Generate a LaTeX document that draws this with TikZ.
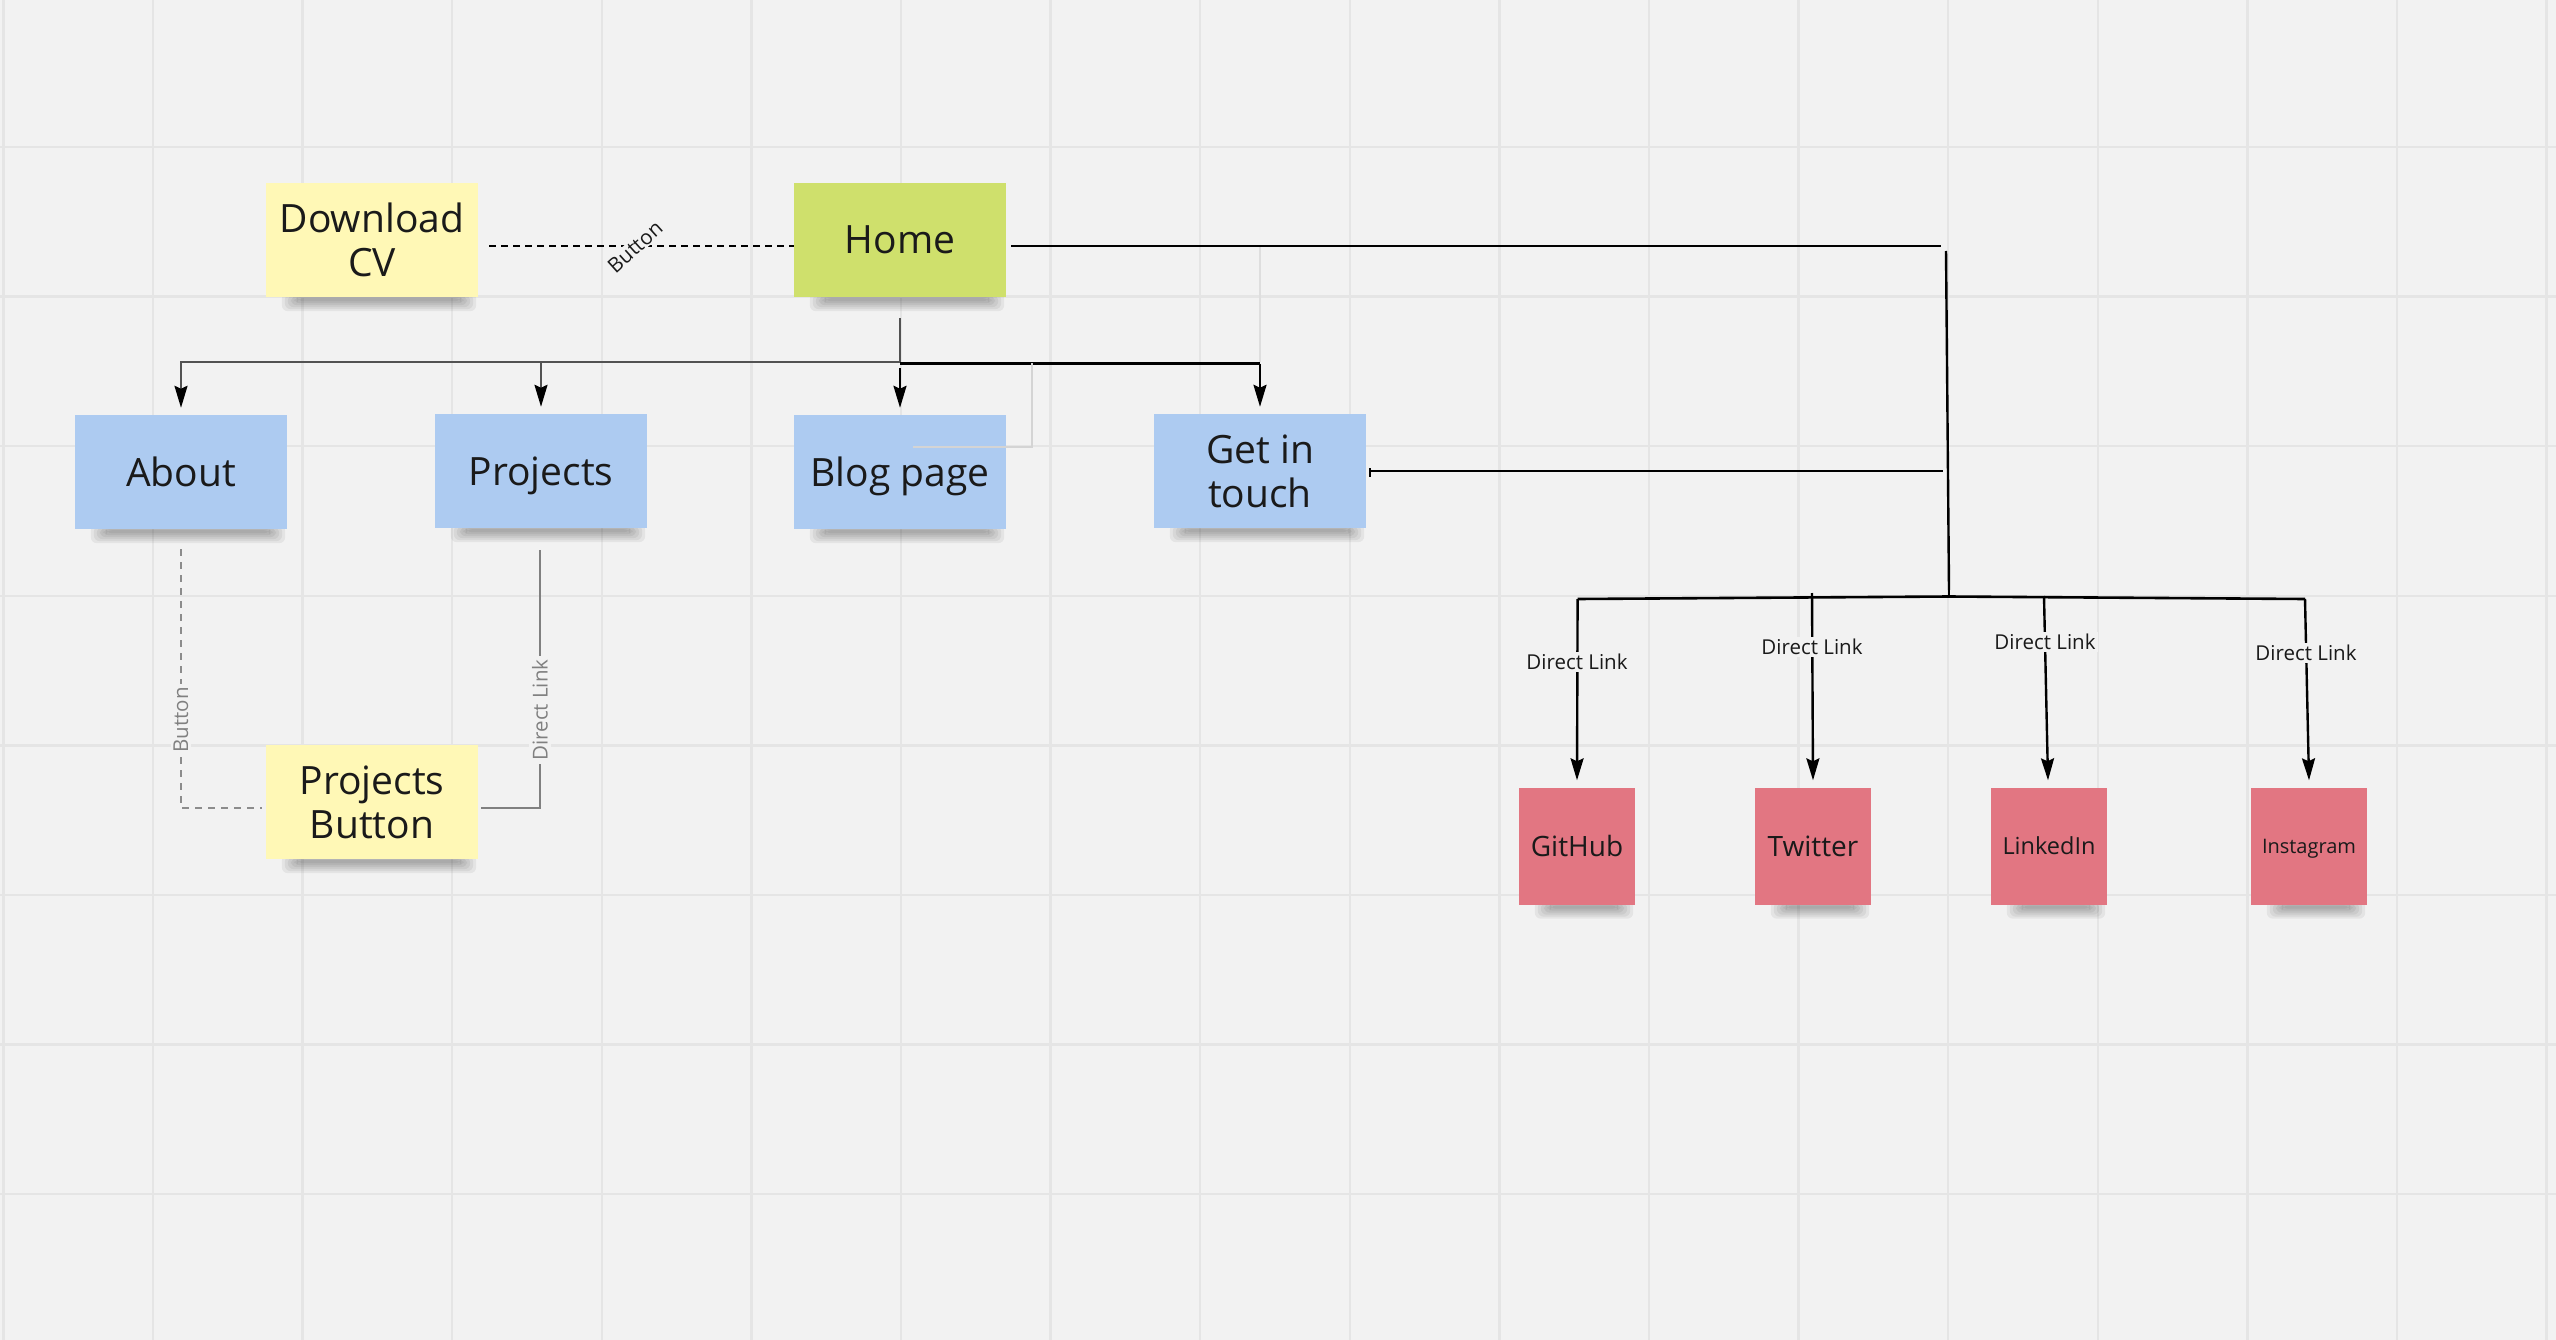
\documentclass[tikz,border=0pt]{standalone}
\usepackage{fontspec}
\setmainfont{Open Sans}
\usetikzlibrary{arrows.meta,calc}
\definecolor{bgc}{HTML}{F2F2F2}
\definecolor{gridc}{HTML}{E5E5E5}
\definecolor{stYellow}{HTML}{FFF8B6}
\definecolor{stGreen}{HTML}{CFE06C}
\definecolor{stBlue}{HTML}{ADCBF1}
\definecolor{stRed}{HTML}{E27682}
\definecolor{txt}{HTML}{1A1A1A}
\pgfdeclarelayer{bgl}
\pgfdeclarelayer{shl}
\pgfsetlayers{bgl,shl,main}
\tikzset{
  sticky/.style={minimum width=212pt, minimum height=114pt, inner sep=0pt, align=center,
    text=txt, font=\fontsize{39}{44}\selectfont},
  oneline/.style={text depth=0pt},
  redsticky/.style={minimum width=116pt, minimum height=117pt, inner sep=0pt, align=center,
    text=txt, fill=stRed, text depth=0pt},
  conn/.style={draw=black, line width=2.4pt},
  lconn/.style={draw=black!68, line width=2.2pt},
  arr/.style={-{Stealth[length=22pt,width=13pt,inset=3pt,color=black]}},
  lbl/.style={font=\fontsize{20.5}{24}\selectfont, text=txt, inner sep=2pt},
  glbl/.style={font=\fontsize{20.5}{24}\selectfont, text=black!50, fill=bgc, inner sep=3pt},
  gridline/.style={draw=gridc, line width=2.5pt}
}
\begin{document}
\begin{tikzpicture}[x=1pt,y=-1pt]
\useasboundingbox (0,0) rectangle (2556,1340);
\begin{pgfonlayer}{bgl}
  \fill[bgc] (0,0) rectangle (2556,1340);
  \foreach \i in {-1,...,16} \draw[gridline] ({153+149.6*\i},0) -- ({153+149.6*\i},1340);
  \foreach \j in {0,...,7} \draw[gridline] (0,{147+149.6*\j}) -- (2556,{147+149.6*\j});
\end{pgfonlayer}

% sticky notes
\node[sticky, fill=stYellow] (dcv) at (372,240) {Download\\CV};
\node[sticky, oneline, fill=stGreen] (home) at (900,240) {Home};
\node[sticky, oneline, fill=stBlue] (about) at (181,472) {About};
\node[sticky, oneline, fill=stBlue] (proj) at (541,471) {Projects};
\node[sticky, oneline, fill=stBlue] (blog) at (900,472) {Blog page};
\node[sticky, fill=stBlue] (git) at (1260,471) {Get in\\touch};
\node[sticky, fill=stYellow] (pbtn) at (372,802) {Projects\\Button};
\node[redsticky, font=\fontsize{28}{32}\selectfont] (gh) at (1577,846) {GitHub};
\node[redsticky, font=\fontsize{28}{32}\selectfont] (tw) at (1813,846) {Twitter};
\node[redsticky, font=\fontsize{23.5}{28}\selectfont] (li) at (2049,846) {LinkedIn};
\node[redsticky, font=\fontsize{20}{24}\selectfont] (ig) at (2309,846) {Instagram};

% shadows
\begin{pgfonlayer}{shl}
\foreach \n in {dcv,home,about,proj,blog,git,pbtn,gh,tw,li,ig}{
  \foreach \k in {0,...,5}{
    \fill[black, opacity=0.055, rounded corners=6pt]
      ($(\n.south west)+({16+3*\k},{-4+\k})$) rectangle ($(\n.south east)+({-2-3*\k},{14-2*\k})$);
  }
}
\end{pgfonlayer}

% Download CV -- Home
\draw[draw=black, line width=1.8pt, dash pattern=on 7pt off 5pt]
  ($(dcv.east)+(11,6)$) -- ($(home.west)+(0,6)$);
\node[lbl, rotate=42, fill=bgc, inner sep=1pt] (btnlbl) at (635,247) {Button};

% Home -> first level
\coordinate (hj) at (900,362);
\coordinate (hjr) at (900,363.5);
\draw[lconn] ($(home.south)+(0,21)$) -- (hj);
\draw[lconn, arr] (hj) -| ([yshift=7pt]about.north);
\draw[lconn, arr] (hj) -| ([yshift=7pt]proj.north);
\draw[conn] (hjr) -- (hjr -| git.north);
\draw[conn, arr] (hjr -| git.north) -- ([yshift=7pt]git.north);
\draw[conn, arr] (900,368) -- ([yshift=7pt]blog.north);

% faint stray lines
\draw[draw=black!17, line width=2pt] ($(blog.center)+(13,-25)$) -- (1032,447) -- (1032,363);
\draw[draw=black!13, line width=2pt] (1260,247) -- (1260,362);

% Home -> right
\coordinate (tr) at (1941,246);
\draw[conn] ($(home.east)+(5,6)$) -- (tr);
\coordinate (vt) at (1946,251);
\coordinate (vb) at (1949,590);
\draw[conn] (vt) -- (vb);
\coordinate (gr) at (1943,471);
\draw[conn, line width=2.2pt] ($(git.east)+(4,0)$) -- (gr);
\draw[conn, line width=1.6pt] ($(git.east)+(4,-3)$) -- ($(git.east)+(4,6)$);

% bottom bus
\coordinate (bm) at (1949,596.5);
\coordinate (bl) at (1577.6,599);
\coordinate (br) at (2305,599);
\draw[conn, line width=2.6pt] (vb) -- (bm);
\draw[conn, line width=2.6pt] (bl) -- (bm) -- (br);

% branches to social nodes
\draw[conn, arr] (bl) -- ([yshift=7pt]gh.north);
\draw[conn, arr] (1812,593) -- ([yshift=7pt]tw.north);
\draw[conn, arr] (2044,596) -- ([yshift=7pt,xshift=-1pt]li.north);
\draw[conn, arr] (br) -- ([yshift=7pt]ig.north);
\node[lbl, fill=bgc] (l1) at (1577,662) {Direct Link};
\node[lbl, fill=bgc] (l2) at (1812,647) {Direct Link};
\node[lbl, fill=bgc] (l3) at (2045,642) {Direct Link};
\node[lbl, fill=bgc] (l4) at (2306,653) {Direct Link};

% About -> Projects Button (dashed)
\coordinate (ac) at (181,808);
\draw[draw=black!45, line width=1.6pt, dash pattern=on 7pt off 6pt]
  ($(about.south)+(0,20)$) -- (ac) -- ($(pbtn.west)+(-4,6)$);
\node[glbl, rotate=90] (l5) at (181,720) {Button};

% Projects -> Projects Button (solid)
\coordinate (pc) at (540,808);
\draw[draw=black!50, line width=1.8pt]
  ($(proj.south)+(-1,22)$) -- (pc) -- ($(pbtn.east)+(3,6)$);
\node[glbl, rotate=90] (l6) at (540,710) {Direct Link};
\end{tikzpicture}
\end{document}
